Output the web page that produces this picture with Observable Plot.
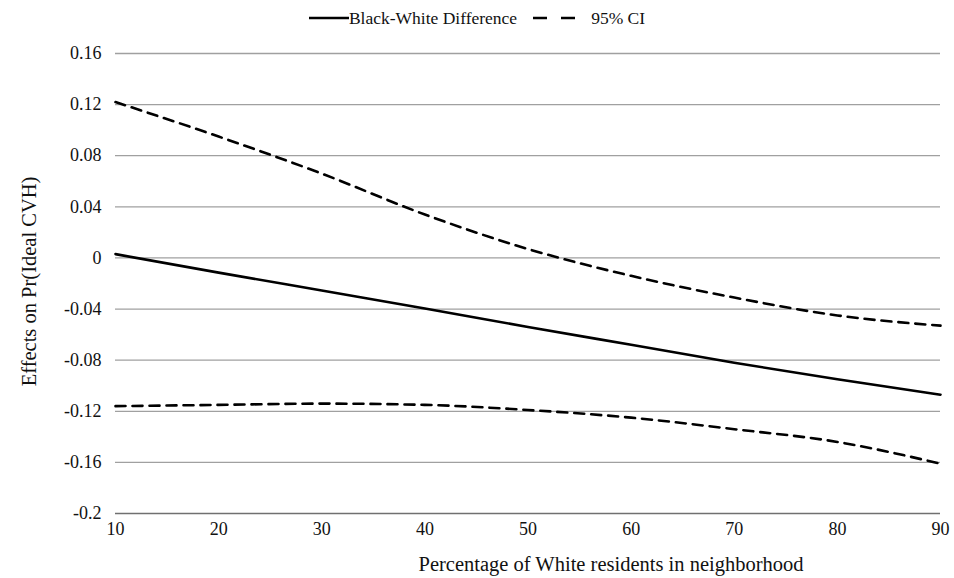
<!DOCTYPE html>
<html>
<head>
<meta charset="utf-8">
<script src="https://cdn.jsdelivr.net/npm/d3@7"></script>
<script src="https://cdn.jsdelivr.net/npm/@observablehq/plot@0.6"></script>
<style>
  body { margin: 0; background: #fff; font-family: "Liberation Serif", "Times New Roman", serif; }
  #wrap { width: 954px; height: 578px; position: relative; overflow: hidden; }
  #legend { height: 36px; display: flex; align-items: center; justify-content: center; font-size: 17.5px; color: #111; }
  #legend .item { display: flex; align-items: center; margin: 0 6px; }
  #xlabel { text-align: center; padding-left: 268px; font-size: 20.5px; color: #111; height: 28px; line-height: 28px; }
  #chart svg g[aria-label="y-axis tick label"] text, #chart svg g[aria-label="x-axis tick label"] text { font-size: 18px; }
</style>
</head>
<body>
<div id="wrap">
  <div id="legend"></div>
  <div id="chart"></div>
  <div id="xlabel"></div>
</div>
<script>
const xValues = [10, 20, 30, 40, 50, 60, 70, 80, 90];
const diffValues = [0.003, -0.0115, -0.0255, -0.0395, -0.054, -0.068, -0.082, -0.095, -0.107];
const upperCI = [0.122, 0.095, 0.066, 0.034, 0.007, -0.014, -0.031, -0.045, -0.053];
const lowerCI = [-0.116, -0.115, -0.114, -0.115, -0.119, -0.125, -0.134, -0.144, -0.161];
const yTicks = [-0.2, -0.16, -0.12, -0.08, -0.04, 0, 0.04, 0.08, 0.12, 0.16];
const xTicks = [10, 20, 30, 40, 50, 60, 70, 80, 90];
const seriesNames = ["Black-White Difference", "95% CI"];
const xTitle = "Percentage of White residents in neighborhood";
const yTitle = "Effects on Pr(Ideal CVH)";

const diffData = xValues.map((x, i) => ({x, y: diffValues[i]}));
const upperData = xValues.map((x, i) => ({x, y: upperCI[i]}));
const lowerData = xValues.map((x, i) => ({x, y: lowerCI[i]}));

const fmt = d => d === 0 ? "0" : String(+d.toFixed(2)).replace("−", "-");

const chart = Plot.plot({
  width: 954,
  height: 514,
  marginTop: 17,
  marginBottom: 37,
  marginLeft: 115,
  marginRight: 14,
  style: { fontFamily: "Liberation Serif, Times New Roman, serif", fontSize: "18px", color: "#111", background: "#fff" },
  x: { domain: [10, 90] },
  y: { domain: [-0.2, 0.16] },
  marks: [
    Plot.gridY(yTicks.filter(d => d > -0.2), { stroke: "#a0a0a0", strokeOpacity: 1, strokeWidth: 1.3 }),
    Plot.ruleY([-0.2], { stroke: "#707070", strokeWidth: 1.6 }),
    Plot.axisY(yTicks, { tickSize: 0, tickPadding: 14, label: null, tickFormat: fmt, fontSize: 18, fill: "#111" }),
    Plot.axisX(xTicks, { tickSize: 0, tickPadding: 9, label: null, tickFormat: d => String(d), fontSize: 18, fill: "#111" }),
    Plot.line(upperData, { x: "x", y: "y", stroke: "#000", strokeWidth: 2.6, strokeDasharray: "10,7", curve: "monotone-x" }),
    Plot.line(lowerData, { x: "x", y: "y", stroke: "#000", strokeWidth: 2.6, strokeDasharray: "10,7", curve: "monotone-x" }),
    Plot.line(diffData, { x: "x", y: "y", stroke: "#000", strokeWidth: 2.6, curve: "monotone-x" }),
    Plot.text([yTitle], { frameAnchor: "left", textAnchor: "middle", rotate: -90, dx: -86, dy: -2, fontSize: 20.5, fill: "#111" })
  ]
});
document.getElementById("chart").appendChild(chart);

const legend = document.getElementById("legend");
legend.innerHTML = `
  <div class="item"><svg width="40" height="10"><line x1="0" y1="5" x2="40" y2="5" stroke="#000" stroke-width="2.6"/></svg><span>${seriesNames[0]}</span></div>
  <div class="item" style="margin-left:8px"><svg width="56" height="10"><line x1="2" y1="5" x2="56" y2="5" stroke="#000" stroke-width="2.6" stroke-dasharray="14,14"/></svg><span style="margin-left:4px">${seriesNames[1]}</span></div>`;
document.getElementById("xlabel").textContent = xTitle;
</script>
</body>
</html>
